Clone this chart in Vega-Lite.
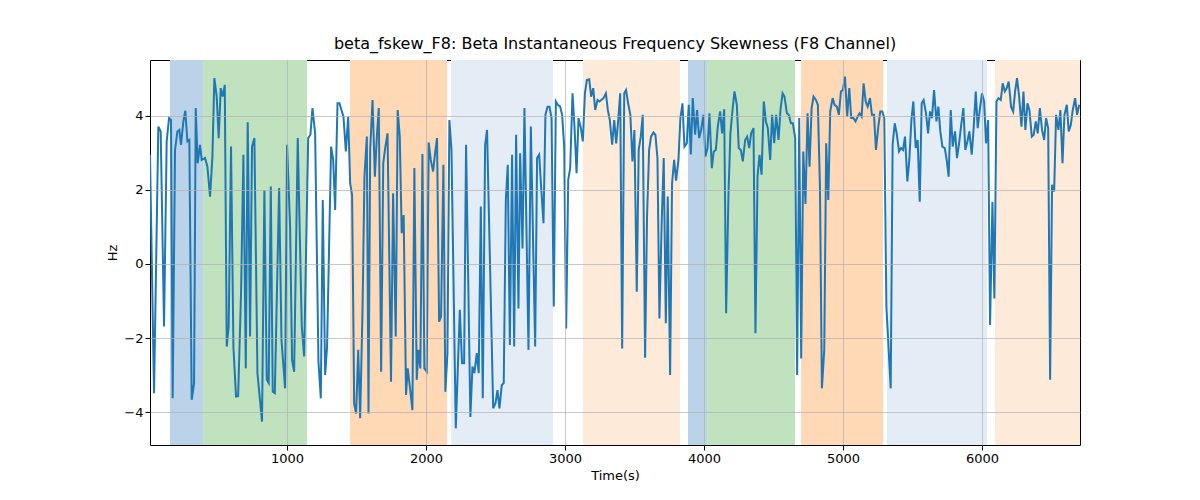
{
  "$schema": "https://vega.github.io/schema/vega-lite/v6.json",
  "width": 930,
  "height": 385,
  "autosize": {"type": "none"},
  "padding": {"left": 150, "top": 60, "right": 120, "bottom": 55},
  "config": {
    "font": "DejaVu Sans",
    "view": {"stroke": "black", "strokeWidth": 1},
    "axis": {"labelFont": "DejaVu Sans", "titleFont": "DejaVu Sans", "labelFontSize": 13, "titleFontSize": 13, "titleFontWeight": "normal", "labelColor": "black", "titleColor": "black", "domain": false, "tickColor": "black", "gridColor": "#b0b0b0", "gridOpacity": 1, "gridWidth": 1, "zindex": 0}
  },
  "title": {"text": "beta_fskew_F8: Beta Instantaneous Frequency Skewness (F8 Channel)", "fontSize": 16, "fontWeight": "normal", "font": "DejaVu Sans", "offset": 8},
  "datasets": {
    "bands": [
      {"start": 158, "end": 396, "kind": "A"},
      {"start": 396, "end": 1144, "kind": "B"},
      {"start": 1453, "end": 2151, "kind": "C"},
      {"start": 2180, "end": 2914, "kind": "D"},
      {"start": 3129, "end": 3827, "kind": "E"},
      {"start": 3885, "end": 4022, "kind": "A"},
      {"start": 4022, "end": 4655, "kind": "B"},
      {"start": 4698, "end": 5288, "kind": "C"},
      {"start": 5317, "end": 6036, "kind": "D"},
      {"start": 6094, "end": 6705, "kind": "E"}
    ],
    "series": [
      {"t":14,"v":2.95},{"t":43,"v":-3.49},{"t":74,"v":3.71},{"t":91,"v":3.58},{"t":115,"v":-1.69},{"t":134,"v":3.31},{"t":151,"v":3.94},{"t":165,"v":3.89},{"t":177,"v":-3.63},{"t":194,"v":3.08},{"t":211,"v":3.58},{"t":225,"v":3.62},{"t":237,"v":3.22},{"t":254,"v":3.85},{"t":268,"v":4.14},{"t":283,"v":3.31},{"t":297,"v":3.35},{"t":314,"v":-3.67},{"t":331,"v":-3.22},{"t":343,"v":4.21},{"t":357,"v":2.72},{"t":374,"v":3.22},{"t":386,"v":2.81},{"t":410,"v":2.86},{"t":427,"v":2.63},{"t":446,"v":1.82},{"t":463,"v":2.9},{"t":477,"v":5.02},{"t":494,"v":4.52},{"t":508,"v":3.4},{"t":523,"v":4.75},{"t":537,"v":4.52},{"t":552,"v":4.84},{"t":566,"v":-2.23},{"t":580,"v":-1.69},{"t":597,"v":3.17},{"t":614,"v":-2.23},{"t":633,"v":-3.58},{"t":648,"v":-3.57},{"t":669,"v":-0.79},{"t":686,"v":2.95},{"t":703,"v":-2.82},{"t":717,"v":3.83},{"t":734,"v":-1.96},{"t":748,"v":3.17},{"t":765,"v":3.4},{"t":787,"v":-2.95},{"t":820,"v":-4.26},{"t":837,"v":2.0},{"t":854,"v":-3.13},{"t":868,"v":-3.22},{"t":883,"v":2.09},{"t":897,"v":-3.45},{"t":912,"v":-3.49},{"t":943,"v":2.05},{"t":960,"v":-2.05},{"t":986,"v":-3.36},{"t":1000,"v":3.22},{"t":1022,"v":1.01},{"t":1036,"v":-2.59},{"t":1051,"v":-2.91},{"t":1077,"v":3.4},{"t":1106,"v":-1.69},{"t":1123,"v":-2.5},{"t":1152,"v":3.4},{"t":1168,"v":3.49},{"t":1183,"v":4.21},{"t":1202,"v":3.53},{"t":1226,"v":-2.64},{"t":1243,"v":-3.63},{"t":1257,"v":1.73},{"t":1274,"v":-3.0},{"t":1288,"v":-2.23},{"t":1317,"v":3.17},{"t":1332,"v":2.81},{"t":1346,"v":1.46},{"t":1363,"v":4.34},{"t":1377,"v":4.34},{"t":1406,"v":3.98},{"t":1423,"v":3.04},{"t":1440,"v":3.98},{"t":1454,"v":2.18},{"t":1468,"v":1.86},{"t":1483,"v":-3.77},{"t":1497,"v":-4.04},{"t":1512,"v":-2.32},{"t":1526,"v":-4.17},{"t":1543,"v":-1.24},{"t":1557,"v":2.36},{"t":1574,"v":3.44},{"t":1586,"v":-4.04},{"t":1598,"v":3.08},{"t":1615,"v":4.43},{"t":1632,"v":2.36},{"t":1646,"v":3.44},{"t":1660,"v":4.21},{"t":1677,"v":-2.91},{"t":1692,"v":2.72},{"t":1706,"v":3.13},{"t":1723,"v":3.53},
      {"t":1748,"v":-3.18},{"t":1763,"v":1.91},{"t":1782,"v":-1.96},{"t":1796,"v":4.16},{"t":1811,"v":3.44},{"t":1825,"v":0.83},{"t":1839,"v":1.32},{"t":1856,"v":-3.54},{"t":1868,"v":-2.82},{"t":1885,"v":-3.36},{"t":1902,"v":-3.95},{"t":1916,"v":2.59},{"t":1933,"v":-3.13},{"t":1945,"v":-2.32},{"t":1959,"v":-2.82},{"t":1974,"v":2.97},{"t":1988,"v":-2.82},{"t":2005,"v":-2.91},{"t":2019,"v":3.28},{"t":2034,"v":2.81},{"t":2051,"v":2.5},{"t":2065,"v":2.99},{"t":2079,"v":3.4},{"t":2094,"v":-1.56},{"t":2108,"v":-1.42},{"t":2125,"v":2.68},{"t":2139,"v":-3.45},{"t":2154,"v":-2.41},{"t":2168,"v":3.89},{"t":2183,"v":3.08},{"t":2199,"v":-0.79},{"t":2214,"v":-4.44},{"t":2243,"v":-1.24},{"t":2259,"v":-2.68},{"t":2274,"v":-2.68},{"t":2288,"v":3.22},{"t":2319,"v":-4.13},{"t":2334,"v":-2.77},{"t":2348,"v":-2.95},{"t":2365,"v":-2.41},{"t":2379,"v":-2.95},{"t":2394,"v":1.55},{"t":2408,"v":-3.63},{"t":2425,"v":3.22},{"t":2439,"v":3.62},{"t":2468,"v":-1.33},{"t":2483,"v":-3.9},{"t":2499,"v":-3.77},{"t":2514,"v":-3.41},{"t":2528,"v":-3.9},{"t":2545,"v":-3.27},{"t":2559,"v":-3.22},{"t":2574,"v":1.73},{"t":2588,"v":2.68},{"t":2603,"v":-2.19},{"t":2619,"v":2.95},{"t":2634,"v":-2.23},{"t":2648,"v":3.49},{"t":2665,"v":-1.2},{"t":2677,"v":2.99},{"t":2694,"v":0.42},{"t":2708,"v":4.21},{"t":2737,"v":-2.32},{"t":2754,"v":3.71},{"t":2785,"v":-2.23},{"t":2799,"v":2.86},{"t":2814,"v":2.95},{"t":2828,"v":2.09},{"t":2845,"v":1.1},{"t":2859,"v":4.03},{"t":2874,"v":4.25},{"t":2888,"v":4.25},{"t":2903,"v":3.94},{"t":2919,"v":-1.15},{"t":2934,"v":4.39},{"t":2948,"v":4.3},{"t":2965,"v":4.25},{"t":2979,"v":4.03},{"t":2994,"v":3.17},{"t":3008,"v":-1.74},{"t":3023,"v":2.27},{"t":3037,"v":2.59},{"t":3054,"v":4.61},{"t":3068,"v":3.71},{"t":3083,"v":2.45},{"t":3097,"v":3.94},{"t":3114,"v":3.67},{"t":3128,"v":3.31},{"t":3143,"v":4.61},{"t":3157,"v":4.97},{"t":3174,"v":4.99},{"t":3188,"v":4.52},{"t":3203,"v":4.75},{"t":3217,"v":4.16},{"t":3234,"v":4.43},{"t":3248,"v":4.39},{"t":3277,"v":4.48},{"t":3294,"v":4.61},{"t":3308,"v":4.16},{"t":3322,"v":3.89},{"t":3339,"v":3.22},{"t":3354,"v":3.89},{"t":3368,"v":3.26},{"t":3382,"v":3.85},{"t":3397,"v":4.61},{"t":3411,"v":-2.28},{"t":3426,"v":4.61},
      {"t":3439,"v":4.7},{"t":3454,"v":4.34},{"t":3470,"v":4.03},{"t":3485,"v":2.77},{"t":3499,"v":3.62},{"t":3516,"v":-0.75},{"t":3530,"v":3.08},{"t":3545,"v":3.44},{"t":3559,"v":4.03},{"t":3576,"v":-2.53},{"t":3590,"v":1.28},{"t":3605,"v":3.08},{"t":3619,"v":3.44},{"t":3636,"v":3.55},{"t":3650,"v":3.49},{"t":3665,"v":2.86},{"t":3679,"v":-1.47},{"t":3696,"v":1.19},{"t":3710,"v":2.86},{"t":3725,"v":-1.6},{"t":3739,"v":1.82},{"t":3756,"v":-3.0},{"t":3770,"v":2.18},{"t":3785,"v":2.81},{"t":3799,"v":2.25},{"t":3816,"v":2.81},{"t":3830,"v":3.94},{"t":3845,"v":4.34},{"t":3859,"v":3.17},{"t":3876,"v":3.26},{"t":3890,"v":4.3},{"t":3905,"v":2.96},{"t":3919,"v":4.48},{"t":3936,"v":3.49},{"t":3950,"v":4.16},{"t":3965,"v":3.4},{"t":3979,"v":3.62},{"t":3996,"v":4.03},{"t":4010,"v":2.9},{"t":4025,"v":3.13},{"t":4039,"v":4.07},{"t":4056,"v":2.59},{"t":4070,"v":3.04},{"t":4085,"v":3.08},{"t":4099,"v":3.71},{"t":4116,"v":4.12},{"t":4130,"v":3.53},{"t":4145,"v":4.18},{"t":4159,"v":-1.33},{"t":4176,"v":1.91},{"t":4190,"v":3.53},{"t":4205,"v":4.16},{"t":4219,"v":4.66},{"t":4236,"v":4.3},{"t":4250,"v":3.13},{"t":4265,"v":3.08},{"t":4279,"v":2.77},{"t":4296,"v":3.35},{"t":4310,"v":3.44},{"t":4325,"v":3.13},{"t":4339,"v":3.53},{"t":4356,"v":3.67},{"t":4370,"v":-1.87},{"t":4385,"v":2.36},{"t":4399,"v":2.95},{"t":4414,"v":2.41},{"t":4430,"v":4.39},{"t":4445,"v":3.85},{"t":4459,"v":3.67},{"t":4476,"v":2.81},{"t":4490,"v":4.03},{"t":4505,"v":3.26},{"t":4519,"v":4.03},{"t":4536,"v":3.35},{"t":4550,"v":4.16},{"t":4565,"v":4.61},{"t":4579,"v":4.52},{"t":4596,"v":4.07},{"t":4610,"v":4.03},{"t":4625,"v":3.8},{"t":4639,"v":3.8},{"t":4656,"v":3.4},{"t":4670,"v":-3.0},{"t":4685,"v":3.94},{"t":4699,"v":-2.55},{"t":4714,"v":3.04},{"t":4730,"v":1.62},{"t":4745,"v":4.07},{"t":4759,"v":2.63},{"t":4774,"v":4.21},{"t":4788,"v":4.52},{"t":4805,"v":4.43},{"t":4819,"v":4.3},{"t":4834,"v":2.09},{"t":4848,"v":-3.36},{"t":4865,"v":-2.32},{"t":4879,"v":3.26},{"t":4894,"v":1.73},{"t":4908,"v":4.12},{"t":4925,"v":4.48},{"t":4939,"v":4.3},{"t":4956,"v":4.25},{"t":4970,"v":4.03},{"t":4985,"v":4.66},{"t":4999,"v":4.7},{"t":5014,"v":5.06},{"t":5030,"v":3.98},{"t":5045,"v":4.75},{"t":5059,"v":3.94},{"t":5074,"v":3.94},{"t":5090,"v":3.85},{"t":5105,"v":3.98},{"t":5119,"v":4.07},
      {"t":5134,"v":3.98},{"t":5148,"v":4.88},{"t":5163,"v":4.39},{"t":5177,"v":4.25},{"t":5194,"v":4.48},{"t":5208,"v":4.03},{"t":5223,"v":4.03},{"t":5237,"v":3.08},{"t":5254,"v":3.71},{"t":5268,"v":4.12},{"t":5283,"v":4.12},{"t":5297,"v":3.94},{"t":5312,"v":-1.15},{"t":5343,"v":-3.36},{"t":5357,"v":3.22},{"t":5372,"v":3.8},{"t":5386,"v":3.53},{"t":5403,"v":3.04},{"t":5417,"v":3.13},{"t":5432,"v":3.08},{"t":5446,"v":3.44},{"t":5463,"v":2.23},{"t":5477,"v":2.81},{"t":5492,"v":3.89},{"t":5506,"v":4.39},{"t":5523,"v":3.13},{"t":5537,"v":3.35},{"t":5552,"v":1.68},{"t":5566,"v":4.34},{"t":5580,"v":4.43},{"t":5597,"v":4.07},{"t":5612,"v":3.53},{"t":5626,"v":4.12},{"t":5640,"v":3.94},{"t":5655,"v":4.7},{"t":5672,"v":3.85},{"t":5686,"v":4.25},{"t":5700,"v":3.58},{"t":5715,"v":3.17},{"t":5732,"v":3.13},{"t":5746,"v":2.81},{"t":5760,"v":2.36},{"t":5775,"v":4.16},{"t":5789,"v":3.17},{"t":5806,"v":3.58},{"t":5820,"v":2.86},{"t":5835,"v":3.26},{"t":5849,"v":3.71},{"t":5866,"v":4.21},{"t":5880,"v":3.08},{"t":5895,"v":3.31},{"t":5909,"v":3.58},{"t":5926,"v":2.95},{"t":5940,"v":3.67},{"t":5955,"v":4.66},{"t":5969,"v":3.67},{"t":5984,"v":4.16},{"t":6000,"v":4.61},{"t":6015,"v":4.39},{"t":6029,"v":3.26},{"t":6044,"v":3.89},{"t":6058,"v":-1.65},{"t":6075,"v":1.68},{"t":6089,"v":-0.93},{"t":6104,"v":4.39},{"t":6118,"v":4.48},{"t":6135,"v":4.43},{"t":6149,"v":4.88},{"t":6164,"v":4.66},{"t":6178,"v":4.75},{"t":6192,"v":4.93},{"t":6209,"v":4.25},{"t":6224,"v":4.12},{"t":6238,"v":4.66},{"t":6252,"v":5.02},{"t":6267,"v":4.52},{"t":6284,"v":3.71},{"t":6298,"v":4.66},{"t":6312,"v":3.62},{"t":6327,"v":4.34},{"t":6341,"v":4.16},{"t":6358,"v":3.44},{"t":6372,"v":3.49},{"t":6387,"v":3.85},{"t":6401,"v":3.53},{"t":6416,"v":4.21},{"t":6432,"v":3.62},{"t":6447,"v":3.35},{"t":6461,"v":3.94},{"t":6476,"v":3.67},{"t":6490,"v":-3.13},{"t":6504,"v":2.14},{"t":6519,"v":1.96},{"t":6533,"v":4.03},{"t":6550,"v":3.62},{"t":6564,"v":4.16},{"t":6579,"v":2.72},{"t":6593,"v":4.03},{"t":6610,"v":4.3},{"t":6624,"v":3.58},{"t":6639,"v":3.76},{"t":6653,"v":4.16},{"t":6670,"v":4.48},{"t":6684,"v":4.03},{"t":6699,"v":4.3}
    ]
  },
  "layer": [
    {
      "data": {"name": "bands"},
      "mark": {"type": "rect", "opacity": 1},
      "encoding": {
        "x": {"field": "start", "type": "quantitative", "scale": {"domain": [14, 6705], "nice": false, "zero": false}, "axis": {"values": [1000, 2000, 3000, 4000, 5000, 6000], "format": "d", "title": "Time(s)", "grid": true, "zindex": 1, "gridOpacity": 0.7}},
        "x2": {"field": "end"},
        "color": {"field": "kind", "type": "nominal", "legend": null, "scale": {"domain": ["A", "B", "C", "D", "E"], "range": ["#bad3e8", "#c0e2bf", "#ffd8b6", "#e4ecf6", "#feead8"]}}
      }
    },
    {
      "data": {"name": "series"},
      "mark": {"type": "line", "color": "#1f77b4", "strokeWidth": 2, "clip": true},
      "encoding": {
        "x": {"field": "t", "type": "quantitative"},
        "y": {"field": "v", "type": "quantitative", "scale": {"domain": [-4.89, 5.51], "nice": false, "zero": false}, "axis": {"values": [-4, -2, 0, 2, 4], "title": "Hz", "grid": true, "zindex": 1, "gridOpacity": 0.7}}
      }
    }
  ]
}
